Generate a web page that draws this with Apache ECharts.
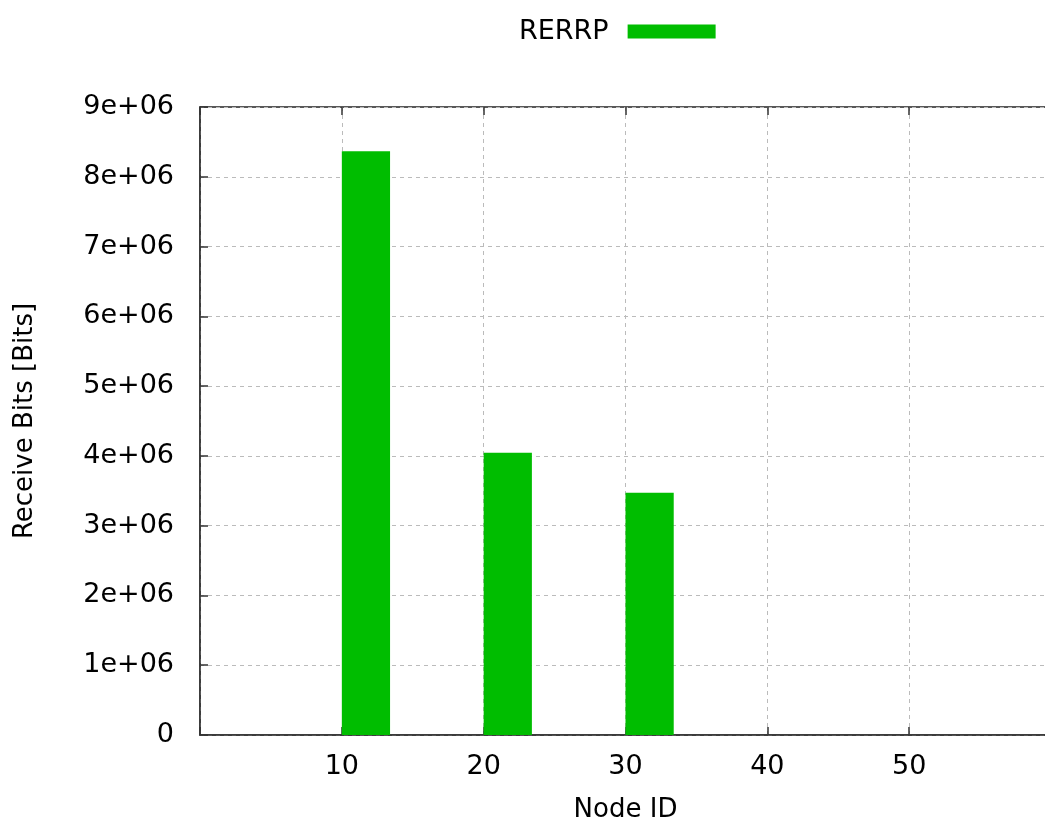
<!DOCTYPE html>
<html>
<head>
<meta charset="utf-8">
<script src="https://cdn.jsdelivr.net/npm/echarts@6/dist/echarts.min.js"></script>
<style>
html,body{margin:0;padding:0;background:#fff;}
#chart{width:1045px;height:825px;}
</style>
</head>
<body>
<div id="chart"></div>
<script>
const seriesName = 'RERRP';
const nodeIds = [10, 20, 30];
const receiveBits = [8365000, 4045000, 3472000];
const xTicks = [10, 20, 30, 40, 50];

const BAR_WIDTH_UNITS = 3.4;
const FONT = 'DejaVu Sans';

const chart = echarts.init(document.getElementById('chart'));
const option = {
  animation: false,
  backgroundColor: '#fff',
  textStyle: { fontFamily: FONT },
  legend: {
    left: 514, top: 13,
    align: 'right',
    itemWidth: 88, itemHeight: 14,
    icon: 'rect',
    textStyle: { fontFamily: FONT, fontSize: 27, color: '#000', padding: [0, 14, 0, 0] },
    data: [seriesName]
  },
  grid: {
    left: 200, top: 107, right: -6, bottom: 90,
    outerBoundsMode: 'none',
    containLabel: false,
    show: true, borderColor: '#222', borderWidth: 1.5, backgroundColor: 'transparent'
  },
  xAxis: [{
    type: 'value', min: 0, max: 60, interval: 10,
    name: 'Node ID', nameLocation: 'middle', nameGap: 62,
    nameTextStyle: { fontFamily: FONT, fontSize: 26, color: '#000' },
    axisLine: { show: true, lineStyle: { color: '#333', width: 1.5 } },
    axisTick: { show: true, inside: true, length: 8, lineStyle: { color: '#333', width: 1.5 } },
    axisLabel: {
      fontFamily: FONT, fontSize: 27, color: '#000', margin: 18,
      formatter: v => xTicks.includes(v) ? String(v) : ''
    },
    splitLine: { show: true, lineStyle: { color: '#bbb', type: [4, 4], width: 1 } }
  }, {
    type: 'value', min: 0, max: 60, interval: 10, position: 'top',
    axisLine: { show: false },
    axisTick: { show: true, inside: true, length: 8, lineStyle: { color: '#333', width: 1.5 } },
    axisLabel: { show: false },
    splitLine: { show: false }
  }],
  yAxis: {
    type: 'value', min: 0, max: 9000000, interval: 1000000,
    name: 'Receive Bits [Bits]', nameLocation: 'middle', nameGap: 162, nameRotate: 90,
    nameTextStyle: { fontFamily: FONT, fontSize: 26, color: '#000' },
    axisLine: { show: true, lineStyle: { color: '#333', width: 1.5 } },
    axisTick: { show: true, inside: true, length: 8, lineStyle: { color: '#333', width: 1.5 } },
    axisLabel: {
      fontFamily: FONT, fontSize: 27, color: '#000', margin: 26,
      formatter: v => v === 0 ? '0' : (v / 1e6) + 'e+06'
    },
    splitLine: { show: true, lineStyle: { color: '#bbb', type: [4, 4], width: 1 } }
  },
  series: [{
    name: seriesName,
    type: 'custom',
    xAxisIndex: 0,
    itemStyle: { color: '#00bd00' },
    data: nodeIds.map((id, i) => [id, receiveBits[i]]),
    encode: { x: 0, y: 1 },
    renderItem: function (params, api) {
      const x0 = api.value(0);
      const p0 = api.coord([x0, 0]);
      const p1 = api.coord([x0 + BAR_WIDTH_UNITS, api.value(1)]);
      return {
        type: 'rect',
        shape: { x: p0[0], y: p1[1], width: p1[0] - p0[0], height: p0[1] - p1[1] },
        style: { fill: '#00bd00' }
      };
    }
  }]
};
chart.setOption(option);
</script>
</body>
</html>
